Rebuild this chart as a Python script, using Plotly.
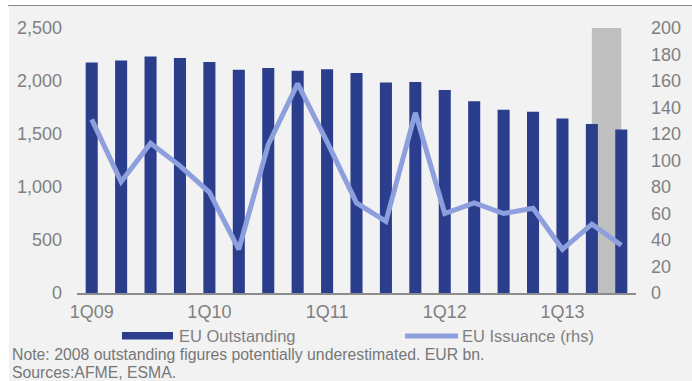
import plotly.graph_objects as go

# Quarterly EU securitisation data (EUR bn)
quarters = [
    "1Q09", "2Q09", "3Q09", "4Q09",
    "1Q10", "2Q10", "3Q10", "4Q10",
    "1Q11", "2Q11", "3Q11", "4Q11",
    "1Q12", "2Q12", "3Q12", "4Q12",
    "1Q13", "2Q13", "3Q13",
]
outstanding = [2175, 2194, 2232, 2217, 2179, 2107, 2123, 2097, 2110, 2075,
               1987, 1991, 1915, 1808, 1729, 1710, 1647, 1594, 1543]
issuance = [131, 84, 113, 96, 76, 33, 112, 158, 114, 68,
            54, 136, 60, 68, 60, 64, 33, 52, 36]
tick_labels = ["1Q09", "1Q10", "1Q11", "1Q12", "1Q13"]

# Shaded band for the most recent period (full height of the left axis)
highlight_quarter = ["2Q13"]
highlight_value = [2500]

W, H = 692, 381
L, R, T, B = 77, 56, 28, 88
PW, PH = W - L - R, H - T - B

NAVY = "#2b3e8d"
PERIWINKLE = "#8d9fdd"
TEXT = "#808080"
FONT = "Liberation Sans, Arial, Helvetica, sans-serif"


def px(x):
    return (x - L) / PW


def py(y):
    return (H - B - y) / PH


fig = go.Figure()

fig.add_trace(go.Bar(
    x=highlight_quarter, y=highlight_value, width=[1.0], offset=0,
    marker=dict(color="#bfbfbf", line=dict(width=0)),
    showlegend=False, hoverinfo="skip",
))
fig.add_trace(go.Bar(
    x=quarters, y=outstanding, width=0.41, name="EU Outstanding",
    marker=dict(color=NAVY, line=dict(width=0)), showlegend=False,
))
fig.add_trace(go.Scatter(
    x=quarters, y=issuance, yaxis="y2", mode="lines", name="EU Issuance (rhs)",
    line=dict(color=PERIWINKLE, width=5), showlegend=False,
))

shapes = [
    # panel background
    dict(type="rect", xref="paper", yref="paper",
         x0=px(9), x1=px(W + 2), y0=py(H + 2), y1=py(6),
         fillcolor="#f2f2f2", line=dict(width=0), layer="below"),
    # top rule
    dict(type="line", xref="paper", yref="paper",
         x0=px(8), x1=px(W + 2), y0=py(5.5), y1=py(5.5),
         line=dict(color="#8a8a8a", width=1.2)),
    # legend glyphs
    dict(type="rect", xref="paper", yref="paper",
         x0=px(122), x1=px(173), y0=py(339.5), y1=py(332),
         fillcolor=NAVY, line=dict(width=0)),
    dict(type="line", xref="paper", yref="paper",
         x0=px(405), x1=px(458), y0=py(336), y1=py(336),
         line=dict(color=PERIWINKLE, width=5)),
]

annotations = [
    dict(text="EU Outstanding", x=px(178), y=py(335.5), xanchor="left", yanchor="middle",
         font=dict(size=16.5, color=TEXT, family=FONT)),
    dict(text="EU Issuance (rhs)", x=px(461), y=py(335.5), xanchor="left", yanchor="middle",
         font=dict(size=16.5, color=TEXT, family=FONT)),
    dict(text="Note: 2008 outstanding figures potentially underestimated. EUR bn.",
         x=px(11), y=py(354.4), xanchor="left", yanchor="middle",
         font=dict(size=15.8, color="#777777", family=FONT)),
    dict(text="Sources:AFME, ESMA.",
         x=px(11), y=py(372.2), xanchor="left", yanchor="middle",
         font=dict(size=15.8, color="#777777", family=FONT)),
]
for a in annotations:
    a.update(xref="paper", yref="paper", showarrow=False, borderpad=0)

fig.update_layout(
    width=W, height=H,
    margin=dict(l=L, r=R, t=T, b=B, pad=0),
    paper_bgcolor="white",
    plot_bgcolor="rgba(0,0,0,0)",
    barmode="overlay",
    font=dict(family=FONT, color=TEXT),
    shapes=shapes,
    annotations=annotations,
    xaxis=dict(
        type="category", categoryorder="array", categoryarray=quarters,
        range=[-0.5, len(quarters) - 0.5],
        tickvals=tick_labels, ticktext=tick_labels,
        showline=True, linecolor="#8c8c8c", linewidth=2,
        ticks="", showgrid=False, zeroline=False,
        tickfont=dict(size=18, color=TEXT), ticklabelstandoff=1,
    ),
    yaxis=dict(
        range=[0, 2500], dtick=500, tickformat=",d",
        showgrid=False, zeroline=False, showline=False, ticks="",
        tickfont=dict(size=18, color=TEXT), ticklabelstandoff=14,
    ),
    yaxis2=dict(
        overlaying="y", side="right", range=[0, 200], dtick=20,
        showgrid=False, zeroline=False, showline=False, ticks="",
        tickfont=dict(size=18, color=TEXT), ticklabelstandoff=14,
    ),
)

fig.write_html("out.html")
